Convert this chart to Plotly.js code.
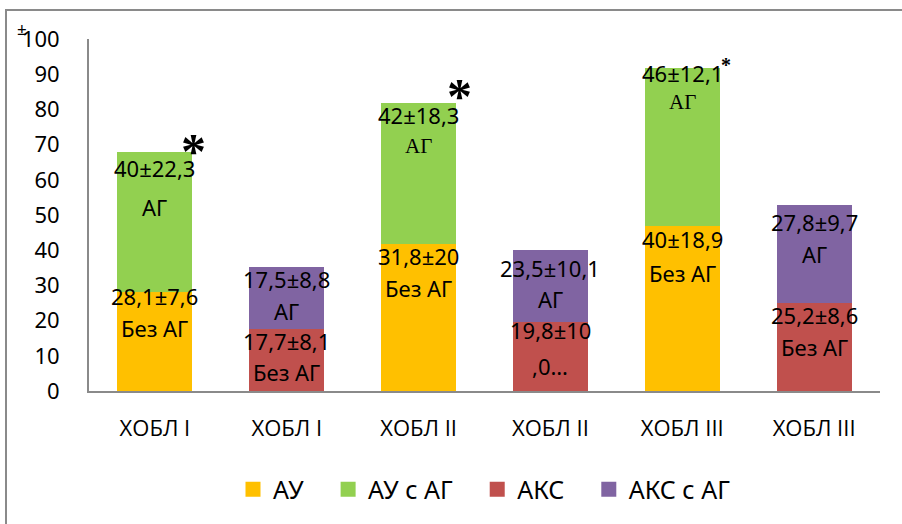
<!DOCTYPE html>
<html><head><meta charset="utf-8">
<script src="https://cdn.plot.ly/plotly-3.0.1.min.js"></script>
<style>
html,body{margin:0;padding:0;background:#fff;}
#wrap{position:relative;width:902px;height:524px;overflow:hidden;background:#fff;}
#chart{position:absolute;left:0;top:0;width:902px;height:524px;}
#frame{position:absolute;left:5px;top:9px;width:940px;height:560px;border-left:2px solid #8a8a8a;border-top:2px solid #8a8a8a;pointer-events:none;}
</style></head><body>
<div id="wrap"><div id="chart"></div><div id="frame"></div></div>
<script>
// ---- data ----
const categories = ["ХОБЛ I", "ХОБЛ I", "ХОБЛ II", "ХОБЛ II", "ХОБЛ III", "ХОБЛ III"];
const seriesNames = ["АУ", "АУ с АГ", "АКС", "АКС с АГ"];
const au      = [28.1, null, 41.8, null, 47.0, null];
const auAg    = [39.7, null, 39.9, null, 44.8, null];
const aks     = [null, 17.7, null, 19.7, null, 25.1];
const aksAg   = [null, 17.5, null, 20.5, null, 27.8];
// labels (two lines per segment)
const auLabel1    = ["28,1±7,6", null, "31,8±20", null, "40±18,9", null];
const auLabel2    = ["Без АГ", null, "Без АГ", null, "Без АГ", null];
const auAgLabel1  = ["40±22,3", null, "42±18,3", null, "46±12,1", null];
const auAgLabel2  = ["АГ", null, "АГ", null, "АГ", null];
const aksLabel1   = [null, "17,7±8,1", null, "19,8±10", null, "25,2±8,6"];
const aksLabel2   = [null, "Без АГ", null, ",0…", null, "Без АГ"];
const aksAgLabel1 = [null, "17,5±8,8", null, "23,5±10,1", null, "27,8±9,7"];
const aksAgLabel2 = [null, "АГ", null, "АГ", null, "АГ"];
const starMarks   = ["*", null, "*", null, "*", null];

// ---- styles ----
const colors = ["#FFC000", "#92D050", "#C0504D", "#8064A2"];
const SANS = "'Noto Sans', 'Open Sans', sans-serif";
const TICKSANS = "'Open Sans', 'Noto Sans', sans-serif";
const SERIF = "'Liberation Serif', 'DejaVu Serif', serif";
// pixel offsets below the top of each segment for line 1 and line 2
const offAu    = [[4,36], null, [12,44], null, [13,47], null];
const offAuAg  = [[16,55], null, [12,43], null, [5,34], null];
const offAks   = [null, [12,43], null, [8,44], null, [12,44]];
const offAksAg = [null, [12,44], null, [18,49], null, [17,49]];
const serifLine2AuAg = [false, null, true, null, true, null];
const starStyle = [{size:50, dx:1, dy:1}, null, {size:50, dx:3, dy:7}, null, {size:20, dx:6, dy:3}, null];
const legendPad = "\u00a0\u00a0\u00a0";

const xs = categories.map((c, i) => i);
const seriesVals = [au, auAg, aks, aksAg];

const traces = seriesVals.map((vals, k) => ({
  type: "bar",
  name: seriesNames[k],
  x: xs,
  y: vals,
  marker: {color: colors[k]},
  showlegend: false,
  hoverinfo: "skip"
}));
// legend entries (square swatches)
seriesNames.forEach((nm, k) => {
  traces.push({type: "scatter", mode: "markers",
    name: nm + (k < seriesNames.length - 1 ? legendPad : ""), x: [null], y: [null],
    marker: {symbol: "square", size: 15, color: colors[k]}, showlegend: true, hoverinfo: "skip"});
});

// stack tops
const tops = seriesVals.map(() => []);
xs.forEach(i => {
  let acc = 0;
  seriesVals.forEach((vals, k) => {
    if (vals[i] != null) { acc += vals[i]; tops[k][i] = acc; } else { tops[k][i] = null; }
  });
});

const annotations = [];
function addLabels(k, l1, l2, off, serif2) {
  xs.forEach(i => {
    if (l1[i] == null) return;
    const top = tops[k][i];
    annotations.push({x: i, y: top, xref: "x", yref: "y", text: l1[i], showarrow: false,
      xanchor: "center", yanchor: "middle", yshift: -off[i][0],
      font: {family: SANS, size: 22, color: "#000"}});
    const isSerif = serif2 && serif2[i];
    annotations.push({x: i, y: top, xref: "x", yref: "y", text: l2[i], showarrow: false,
      xanchor: "center", yanchor: "middle", yshift: -off[i][1],
      font: {family: isSerif ? SERIF : SANS, size: isSerif ? 21 : 22, color: "#000"}});
  });
}
addLabels(0, auLabel1, auLabel2, offAu, null);
addLabels(1, auAgLabel1, auAgLabel2, offAuAg, serifLine2AuAg);
addLabels(2, aksLabel1, aksLabel2, offAks, null);
addLabels(3, aksAgLabel1, aksAgLabel2, offAksAg, null);

const halfBar = (1 - 0.43) / 2;
xs.forEach(i => {
  if (starMarks[i] == null) return;
  const st = starStyle[i];
  annotations.push({x: i + halfBar, y: tops[1][i], xref: "x", yref: "y", text: starMarks[i],
    showarrow: false, xanchor: "center", yanchor: "middle", xshift: st.dx, yshift: st.dy,
    font: {family: SERIF, size: st.size, color: "#000", weight: "bold"}});
});

annotations.push({x: -0.085, y: 1.03, xref: "paper", yref: "paper", text: "±", showarrow: false,
  xanchor: "center", yanchor: "middle", font: {family: SANS, size: 17, color: "#000"}});

const layout = {
  width: 902, height: 524,
  margin: {l: 89, r: 22, t: 39, b: 130},
  paper_bgcolor: "rgba(0,0,0,0)",
  plot_bgcolor: "rgba(0,0,0,0)",
  barmode: "stack",
  bargap: 0.43,
  showlegend: true,
  legend: {orientation: "h", x: 0.5, xanchor: "center", y: -0.28, yanchor: "middle",
    font: {family: SANS, size: 25, color: "#000"}, traceorder: "normal", itemwidth: 30},
  xaxis: {
    range: [-0.5, 5.5], tickmode: "array", tickvals: xs, ticktext: categories,
    showline: true, linecolor: "#8a8a8a", linewidth: 2, showgrid: false, zeroline: false,
    ticks: "", ticklabelstandoff: 17, tickfont: {family: TICKSANS, size: 22, color: "#000"}, fixedrange: true
  },
  yaxis: {
    range: [0, 100], dtick: 10, tick0: 0,
    showline: true, linecolor: "#8a8a8a", linewidth: 2, showgrid: false, zeroline: false,
    ticks: "", ticklabelstandoff: 23, tickfont: {family: SANS, size: 22, color: "#000"}, fixedrange: true
  },
  annotations: annotations
};

Plotly.newPlot("chart", traces, layout, {displayModeBar: false, staticPlot: true});
</script>
</body></html>
